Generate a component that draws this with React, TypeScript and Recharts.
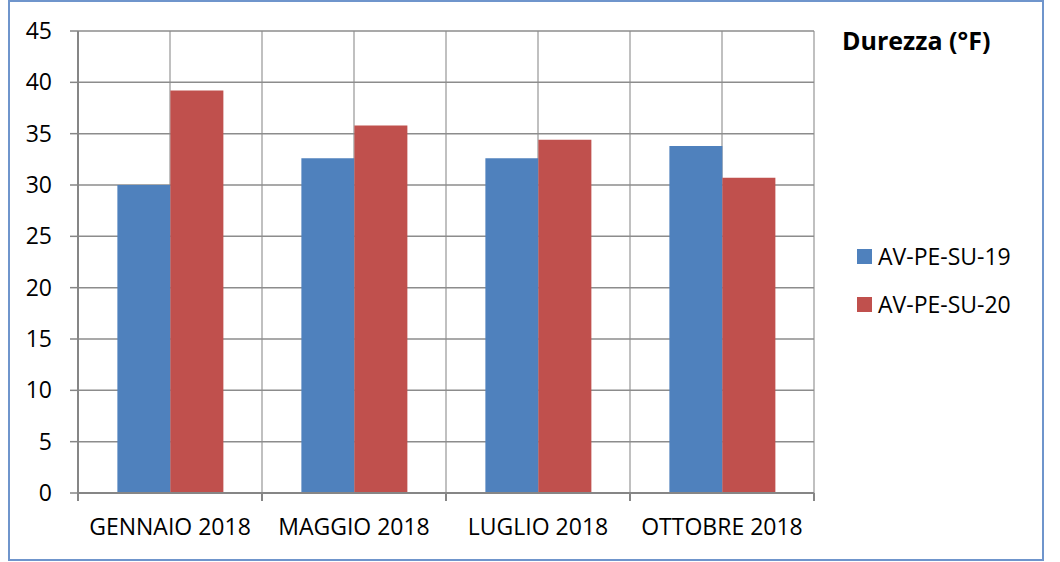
import React from "react";
import { BarChart, Bar, XAxis, YAxis, CartesianGrid } from "recharts";

const categories = ["GENNAIO 2018", "MAGGIO 2018", "LUGLIO 2018", "OTTOBRE 2018"];
const seriesNames = ["AV-PE-SU-19", "AV-PE-SU-20"];
const series19 = [30.0, 32.6, 32.6, 33.8];
const series20 = [39.2, 35.8, 34.4, 30.7];
const yTicks = [0, 5, 10, 15, 20, 25, 30, 35, 40, 45];
const chartTitle = "Durezza (°F)";

const COLORS = ["#4f81bd", "#c0504d"];
const FONT = "'Open Sans', 'Liberation Sans', sans-serif";
const AXIS = "#868686";

const data = categories.map((c, i) => ({ name: c, s19: series19[i], s20: series20[i] }));

const XTick = (props: any) => {
  const { x, y, payload, index, width, visibleTicksCount } = props;
  const bw = width / visibleTicksCount;
  const axisY = y - 26;
  return (
    <g>
      {index === 0 && (
        <line x1={x - bw / 2} x2={x - bw / 2} y1={axisY} y2={axisY + 8} stroke={AXIS} strokeWidth={2} />
      )}
      <line x1={x + bw / 2} x2={x + bw / 2} y1={axisY} y2={axisY + 8} stroke={AXIS} strokeWidth={2} />
      <text x={x} y={y} dy="0.71em" textAnchor="middle" fontFamily={FONT} fontSize={23} fill="#000">
        {payload.value}
      </text>
    </g>
  );
};

export default function App() {
  return (
    <div style={{ position: "absolute", left: 0, top: 0, width: 1060, height: 562, background: "#fff" }}>
      <div
        style={{
          position: "absolute",
          left: 8,
          top: 0,
          width: 1036,
          height: 561,
          border: "2px solid #6f95cc",
          boxSizing: "border-box",
        }}
      />
      <div style={{ position: "absolute", left: 0, top: 0 }}>
        <BarChart
          width={1060}
          height={562}
          data={data}
          margin={{ top: 31, right: 246, bottom: 9, left: 0 }}
          barCategoryGap="21.4%"
          barGap={0}
        >
          <CartesianGrid
            horizontal={false}
            vertical={true}
            stroke="#c0c0c0"
            strokeWidth={2}
            verticalCoordinatesGenerator={({ offset }: any) =>
              Array.from({ length: 9 }, (_, i) => offset.left + (offset.width * i) / 8)
            }
          />
          <CartesianGrid horizontal={true} vertical={false} stroke="#8c8c8c" strokeWidth={1.5} />
          <XAxis
            dataKey="name"
            height={60}
            axisLine={{ stroke: AXIS, strokeWidth: 2 }}
            tickLine={false}
            tickSize={8}
            tickMargin={18}
            tick={<XTick />}
            interval={0}
          />
          <YAxis
            width={78}
            domain={[0, 45]}
            ticks={yTicks}
            interval={0}
            axisLine={{ stroke: AXIS, strokeWidth: 2 }}
            tickLine={{ stroke: AXIS, strokeWidth: 1.5 }}
            tickSize={8}
            tickMargin={18}
            tick={{ fontFamily: FONT, fontSize: 23, fill: "#000" }}
          />
          <Bar dataKey="s19" name={seriesNames[0]} fill={COLORS[0]} isAnimationActive={false} />
          <Bar dataKey="s20" name={seriesNames[1]} fill={COLORS[1]} isAnimationActive={false} />
        </BarChart>
      </div>
      <div
        style={{
          position: "absolute",
          left: 857,
          top: 232,
          fontFamily: FONT,
          fontSize: 23,
          color: "#000",
          whiteSpace: "nowrap",
        }}
      >
        {seriesNames.map((n, i) => (
          <div key={n} style={{ display: "flex", alignItems: "center", height: 48 }}>
            <span
              style={{ display: "inline-block", width: 15, height: 15, background: COLORS[i], marginRight: 6 }}
            />
            <span>{n}</span>
          </div>
        ))}
      </div>
      <div
        style={{
          position: "absolute",
          left: 842,
          top: 23,
          fontFamily: FONT,
          fontSize: 25,
          fontWeight: "bold",
          color: "#000",
          whiteSpace: "nowrap",
        }}
      >
        {chartTitle}
      </div>
    </div>
  );
}
